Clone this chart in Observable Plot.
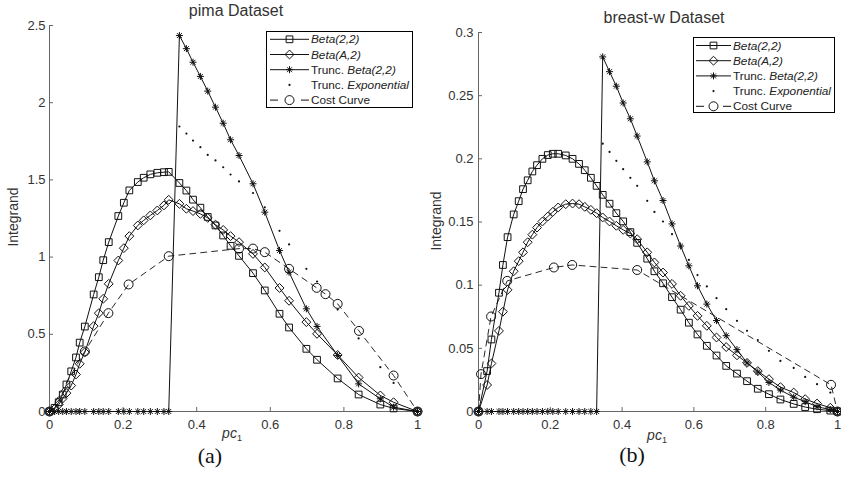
<!DOCTYPE html>
<html>
<head>
<meta charset="utf-8">
<script src="https://cdn.jsdelivr.net/npm/d3@7"></script>
<script src="https://cdn.jsdelivr.net/npm/@observablehq/plot@0.6"></script>
<style>
html,body{margin:0;padding:0;background:#fff;}
#wrap{position:relative;width:841px;height:482px;overflow:hidden;background:#fff;}
.panel{position:absolute;top:0;}
.panel svg{overflow:visible;}
#overlay{position:absolute;left:0;top:0;pointer-events:none;}
</style>
</head>
<body>
<div id="wrap">
  <div id="pima" class="panel" style="left:0;width:420px"></div>
  <div id="breast" class="panel" style="left:420px;width:421px"></div>
  <svg id="overlay" width="841" height="482"></svg>
</div>
<script>
// ---------- data ----------
const xTicks = [0, 0.2, 0.4, 0.6, 0.8, 1];
const pimaYTicks = [0, 0.5, 1, 1.5, 2, 2.5];
const breastYTicks = [0, 0.05, 0.1, 0.15, 0.2, 0.25, 0.3];

const pimaX = [0, 0.014, 0.025, 0.036, 0.046, 0.059, 0.072, 0.082, 0.096, 0.12, 0.134, 0.146, 0.161, 0.187, 0.202, 0.217, 0.24, 0.256, 0.274, 0.293, 0.311, 0.324, 0.353, 0.372, 0.39, 0.41, 0.43, 0.451, 0.472, 0.492, 0.515, 0.553, 0.585, 0.625, 0.651, 0.698, 0.727, 0.783, 0.84, 0.899, 0.935, 1];
const pimaBeta22 = [0, 0.024, 0.06, 0.11, 0.175, 0.26, 0.35, 0.446, 0.55, 0.758, 0.87, 0.98, 1.097, 1.266, 1.352, 1.432, 1.486, 1.514, 1.536, 1.546, 1.55, 1.552, 1.48, 1.431, 1.372, 1.32, 1.26, 1.205, 1.14, 1.073, 1.008, 0.896, 0.784, 0.633, 0.544, 0.406, 0.335, 0.214, 0.11, 0.045, 0.02, 0];
const pimaBetaA2 = [0, 0.018, 0.045, 0.085, 0.119, 0.168, 0.24, 0.309, 0.384, 0.553, 0.637, 0.73, 0.827, 0.978, 1.058, 1.136, 1.205, 1.238, 1.27, 1.302, 1.335, 1.371, 1.345, 1.313, 1.298, 1.28, 1.254, 1.21, 1.176, 1.136, 1.097, 1.021, 0.933, 0.8, 0.717, 0.579, 0.503, 0.366, 0.22, 0.104, 0.06, 0];
const pimaTruncBeta = [0, 0, 0, 0, 0, 0, 0, 0, 0, 0, 0, 0, 0, 0, 0, 0, 0, 0, 0, 0, 0, 0, 2.435, 2.35, 2.262, 2.17, 2.075, 1.971, 1.867, 1.76, 1.658, 1.475, 1.291, 1.043, 0.902, 0.665, 0.551, 0.363, 0.179, 0.082, 0.028, 0];
const pimaExpX = [0.353, 0.372, 0.39, 0.41, 0.43, 0.451, 0.472, 0.492, 0.515, 0.553, 0.585, 0.625, 0.651, 0.698, 0.727, 0.783, 0.84, 0.899, 0.935];
const pimaExp = [1.846, 1.8, 1.755, 1.712, 1.662, 1.626, 1.582, 1.535, 1.49, 1.415, 1.323, 1.17, 1.082, 0.924, 0.842, 0.66, 0.473, 0.287, 0.185];
const pimaCostX = [0, 0.096, 0.16, 0.215, 0.324, 0.515, 0.553, 0.585, 0.651, 0.726, 0.75, 0.783, 0.841, 0.935, 1];
const pimaCost = [0, 0.389, 0.637, 0.823, 1.006, 1.055, 1.055, 1.032, 0.924, 0.801, 0.76, 0.697, 0.522, 0.233, 0];

const breastX = [0, 0.024, 0.036, 0.057, 0.068, 0.081, 0.098, 0.112, 0.124, 0.137, 0.15, 0.163, 0.178, 0.193, 0.207, 0.222, 0.243, 0.262, 0.28, 0.296, 0.313, 0.329, 0.346, 0.365, 0.384, 0.403, 0.423, 0.442, 0.47, 0.49, 0.514, 0.539, 0.563, 0.586, 0.61, 0.636, 0.663, 0.69, 0.72, 0.748, 0.778, 0.809, 0.841, 0.878, 0.91, 0.943, 0.98, 1];
const breastBeta22 = [0, 0.032, 0.057, 0.094, 0.116, 0.138, 0.156, 0.1665, 0.176, 0.183, 0.19, 0.195, 0.2, 0.203, 0.204, 0.204, 0.2027, 0.2, 0.196, 0.191, 0.185, 0.1786, 0.1715, 0.1645, 0.157, 0.1505, 0.142, 0.1335, 0.121, 0.111, 0.1015, 0.0905, 0.0806, 0.0703, 0.061, 0.052, 0.0443, 0.0361, 0.03, 0.024, 0.018, 0.0137, 0.0095, 0.006, 0.0035, 0.0018, 0.0007, 0];
const breastBetaA2 = [0, 0.021, 0.038, 0.0638, 0.079, 0.0963, 0.111, 0.119, 0.126, 0.134, 0.14, 0.1456, 0.1504, 0.1543, 0.158, 0.1615, 0.1641, 0.1646, 0.1641, 0.162, 0.1596, 0.157, 0.1536, 0.1504, 0.147, 0.1438, 0.1409, 0.1364, 0.126, 0.118, 0.11, 0.101, 0.0916, 0.0836, 0.0757, 0.0678, 0.0586, 0.051, 0.0445, 0.0385, 0.032, 0.0256, 0.0193, 0.015, 0.0098, 0.0063, 0.003, 0];
const breastTruncBeta = [0, 0, 0, 0, 0, 0, 0, 0, 0, 0, 0, 0, 0, 0, 0, 0, 0, 0, 0, 0, 0, 0, 0.2807, 0.269, 0.2575, 0.2442, 0.2317, 0.218, 0.1976, 0.1826, 0.167, 0.1485, 0.131, 0.1153, 0.0995, 0.085, 0.072, 0.06, 0.049, 0.0385, 0.0313, 0.023, 0.017, 0.0113, 0.0078, 0.0038, 0.0015, 0];
const breastExpX = [0.346, 0.365, 0.384, 0.403, 0.423, 0.442, 0.47, 0.49, 0.514, 0.539, 0.563, 0.586, 0.61, 0.636, 0.663, 0.69, 0.72, 0.748, 0.778, 0.809, 0.841, 0.878, 0.91, 0.943, 0.98];
const breastExp = [0.212, 0.2055, 0.1984, 0.1918, 0.185, 0.1786, 0.1668, 0.158, 0.1504, 0.1404, 0.131, 0.12, 0.108, 0.099, 0.0897, 0.081, 0.0718, 0.0639, 0.0565, 0.048, 0.04, 0.0345, 0.0274, 0.0216, 0.015];
const breastCostX = [0, 0.007, 0.035, 0.08, 0.21, 0.261, 0.442, 0.982, 1];
const breastCost = [0, 0.0296, 0.0752, 0.1034, 0.114, 0.116, 0.112, 0.0211, 0];

const legendEntries = [
  {kind: "square", parts: [["Beta(2,2)", true]]},
  {kind: "diamond", parts: [["Beta(A,2)", true]]},
  {kind: "star", parts: [["Trunc. ", false], ["Beta(2,2)", true]]},
  {kind: "dot", parts: [["Trunc. ", false], ["Exponential", true]]},
  {kind: "cost", parts: [["Cost Curve", false]]}
];

// ---------- styles ----------
const SANS = '"Liberation Sans", Arial, Helvetica, sans-serif';
const INK = "#111";
const AXIS = "#666";
const R = {square: 3.8, diamond: 4, plus: 2.4, times: 2.35, circle: 4.5, dot: 1.1};

function pairs(xs, ys) { return xs.map((x, i) => ({x, y: ys[i]})); }

function panel(id, cfg) {
  const {width, height, ml, mr, mt, mb, yDomain, yTicks, yPad, X, b22, bA2, tb, ex, ey, cx, cy} = cfg;
  const pw = width - ml - mr, ph = height - mt - mb;
  const s1 = pairs(X, b22), s2 = pairs(X, bA2), s3 = pairs(X, tb), s4 = pairs(ex, ey), s5 = pairs(cx, cy);
  const fmt = d => String(d);
  const line = {x: "x", y: "y", stroke: INK, strokeWidth: 1};
  const mk = {x: "x", y: "y", stroke: INK, fill: "none", strokeWidth: 1};
  const chart = Plot.plot({
    width, height, marginLeft: ml, marginRight: mr, marginTop: mt, marginBottom: mb,
    style: {fontFamily: SANS, fontSize: "13px", color: "#333", background: "transparent", overflow: "visible"},
    x: {domain: [0, 1]},
    y: {domain: yDomain},
    marks: [
      Plot.axisX(xTicks, {tickSize: 0, tickPadding: 8, tickFormat: fmt, label: null}),
      Plot.axisY(yTicks, {tickSize: 0, tickPadding: yPad, tickFormat: fmt, label: null}),
      Plot.tickX(xTicks, {x: d => d, insetTop: ph - 4, stroke: AXIS}),
      Plot.tickY(yTicks, {y: d => d, insetRight: pw - 4, stroke: AXIS}),
      Plot.ruleY([yDomain[0]], {stroke: AXIS}),
      Plot.ruleX([0], {stroke: AXIS}),
      Plot.line(s5, {...line, strokeWidth: 0.9, strokeDasharray: "6,5"}),
      Plot.line(s1, line),
      Plot.line(s2, line),
      Plot.line(s3, line),
      Plot.dot(s1, {...mk, symbol: "square", r: R.square}),
      Plot.dot(s2, {...mk, symbol: "diamond2", r: R.diamond}),
      Plot.dot(s3, {...mk, symbol: "plus", r: R.plus}),
      Plot.dot(s3, {...mk, symbol: "times", r: R.times}),
      Plot.dot(s4, {x: "x", y: "y", r: R.dot, fill: INK, stroke: "none"}),
      Plot.dot(s5, {...mk, symbol: "circle", r: R.circle})
    ]
  });
  document.getElementById(id).append(chart);
}

panel("pima", {width: 420, height: 450, ml: 49, mr: 3, mt: 25, mb: 39, yDomain: [0, 2.5], yTicks: pimaYTicks, yPad: 4,
  X: pimaX, b22: pimaBeta22, bA2: pimaBetaA2, tb: pimaTruncBeta, ex: pimaExpX, ey: pimaExp, cx: pimaCostX, cy: pimaCost});
panel("breast", {width: 421, height: 450, ml: 58, mr: 4, mt: 32, mb: 39, yDomain: [0, 0.3], yTicks: breastYTicks, yPad: 5,
  X: breastX, b22: breastBeta22, bA2: breastBetaA2, tb: breastTruncBeta, ex: breastExpX, ey: breastExp, cx: breastCostX, cy: breastCost});

// ---------- overlay text & legends ----------
const ov = d3.select("#overlay");
function label(x, y, s, size, extra = {}) {
  const t = ov.append("text").attr("x", x).attr("y", y).attr("text-anchor", "middle")
    .attr("font-family", extra.family || SANS).attr("font-size", size).attr("fill", extra.fill || "#333").text(s);
  if (extra.rotate) t.attr("transform", `rotate(-90 ${x} ${y})`).attr("dominant-baseline", "central");
  return t;
}
label(236, 15.5, "pima Dataset", 16);
label(664, 22.5, "breast-w Dataset", 16);
label(13, 217, "Integrand", 14, {rotate: true});
label(435.5, 221, "Integrand", 14, {rotate: true});
function pcLabel(x, y) {
  const t = ov.append("text").attr("x", x).attr("y", y).attr("text-anchor", "middle")
    .attr("font-family", SANS).attr("font-size", 14).attr("fill", "#333");
  t.append("tspan").attr("font-style", "italic").text("pc");
  t.append("tspan").attr("font-size", 9).attr("dy", 3).text("1");
}
pcLabel(232, 438);
pcLabel(657, 439.5);
label(210, 463, "(a)", 22, {family: '"Liberation Serif", "DejaVu Serif", serif', fill: "#111"});
label(632, 462, "(b)", 22, {family: '"Liberation Serif", "DejaVu Serif", serif', fill: "#111"});

function sym(type, r) { return d3.symbol(type, Math.PI * r * r)(); }
function legend(cfg) {
  const {left, top, w, h, lx0, lx1, mx, tx, y0, dy} = cfg;
  const g = ov.append("g").attr("transform", `translate(${left},${top})`);
  g.append("rect").attr("x", 0.5).attr("y", 0.5).attr("width", w - 1).attr("height", h - 1)
    .attr("fill", "#fff").attr("stroke", "#000").attr("stroke-width", 1);
  legendEntries.forEach((e, i) => {
    const y = y0 + i * dy;
    const row = g.append("g").attr("transform", `translate(0,${y})`);
    const st = s => s.attr("stroke", INK).attr("fill", "none").attr("stroke-width", 1);
    if (e.kind === "square" || e.kind === "diamond" || e.kind === "star") {
      st(row.append("line").attr("x1", lx0).attr("x2", lx1).attr("y1", 0).attr("y2", 0));
    }
    const m = row.append("g").attr("transform", `translate(${mx},0)`);
    if (e.kind === "square") st(m.append("path").attr("d", sym(d3.symbolSquare, R.square)));
    if (e.kind === "diamond") st(m.append("path").attr("d", sym(d3.symbolDiamond2, R.diamond)));
    if (e.kind === "star") {
      st(m.append("path").attr("d", sym(d3.symbolPlus, R.plus)));
      st(m.append("path").attr("d", sym(d3.symbolTimes, R.times)));
    }
    if (e.kind === "dot") m.append("circle").attr("r", R.dot).attr("fill", INK);
    if (e.kind === "cost") {
      st(m.append("circle").attr("r", R.circle));
      st(row.append("line").attr("x1", lx0).attr("x2", lx0 + 8).attr("y1", 0).attr("y2", 0));
      st(row.append("line").attr("x1", lx1 - 8).attr("x2", lx1).attr("y1", 0).attr("y2", 0));
    }
    const t = row.append("text").attr("x", tx).attr("y", 0).attr("dy", "0.35em")
      .attr("font-family", SANS).attr("font-size", 11.8).attr("fill", "#222");
    e.parts.forEach(([s, it]) => t.append("tspan").attr("font-style", it ? "italic" : "normal").text(s));
  });
}
legend({left: 266, top: 31, w: 147, h: 77, lx0: 4, lx1: 43, mx: 23.5, tx: 45, y0: 8.3, dy: 15.2});
legend({left: 693, top: 37, w: 142, h: 76, lx0: 3, lx1: 38, mx: 20.5, tx: 40, y0: 8.5, dy: 15.2});
</script>
</body>
</html>
